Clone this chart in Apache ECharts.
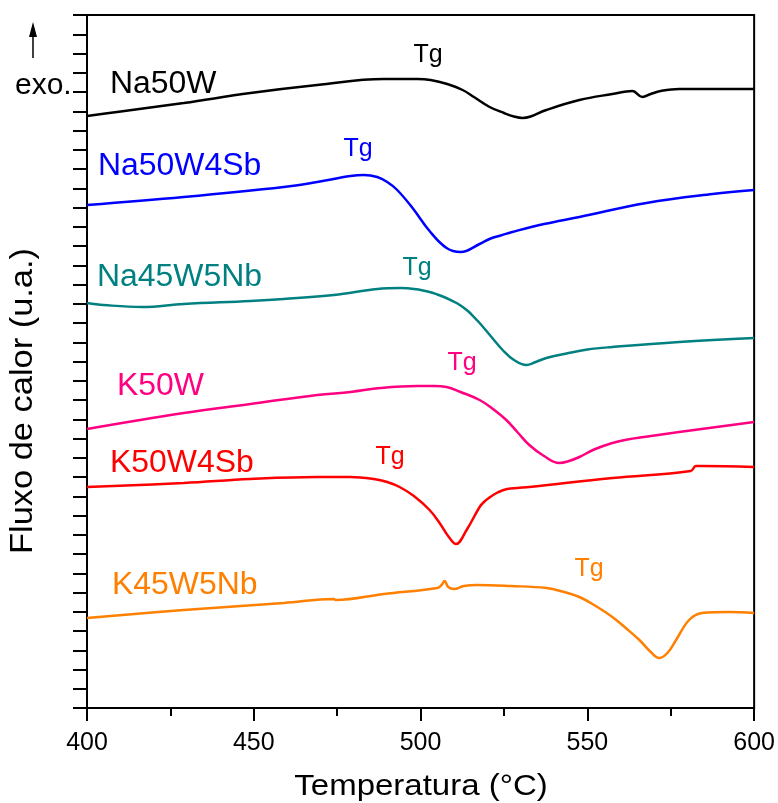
<!DOCTYPE html>
<html>
<head>
<meta charset="utf-8">
<script src="https://cdn.jsdelivr.net/npm/echarts@6/dist/echarts.min.js"></script>
<style>
  html, body { margin: 0; padding: 0; background: #fff; }
  #chart { width: 778px; height: 803px; }
</style>
</head>
<body>
<div id="chart"></div>
<script>
// DSC traces, heat flow in arbitrary units (offset stacked)
const xTicks = [400, 450, 500, 550, 600];

const na50wT = [400, 409, 429, 449, 469, 489, 499, 503, 508, 512.6, 516, 520.7, 525, 528, 530.5, 533, 537.7, 547.6, 557.5, 563.5, 566.5, 569, 572, 577.5, 587.5, 600];
const na50wV = [592, 596, 605, 615, 623, 629, 629, 628, 624, 618, 611, 601, 595, 591.5, 590, 591.5, 598, 608, 614, 617, 611, 614, 617, 619, 619, 619];

const na50w4sbT = [400, 429, 459, 469, 479, 483, 487, 490, 493, 497.6, 502.7, 507.8, 512, 517.7, 521, 524, 527.5, 537, 547.6, 567.7, 587.5, 600];
const na50w4sbV = [503, 511, 521, 526, 532, 533, 531, 526, 518, 500, 477, 460, 456, 464, 469.5, 472.5, 476, 484, 491, 505, 514, 518];

const na45w5nbT = [400, 405, 416.5, 429, 449, 459, 474, 487, 494, 500, 502.7, 505, 507, 509, 510.8, 512, 514, 515, 517.7, 521, 524.6, 528, 531.7, 534.5, 537.7, 543.7, 550, 557.5, 577.5, 600];
const na45w5nbV = [405, 403, 401, 404, 407, 409, 413, 419, 420, 418, 416, 413.5, 411, 408, 405, 402.5, 397.5, 394.5, 385, 372, 358, 348, 343, 346, 350, 354.5, 358.5, 361, 366, 370];

const k50wT = [400, 429, 449, 469, 479, 488, 499, 504, 507.8, 512, 517.7, 521.7, 525.7, 529, 532.6, 537, 541.6, 544.5, 547.6, 552, 557.5, 562, 567, 577.5, 600];
const k50wV = [279, 295, 304, 313, 316, 320, 322, 322, 321, 316, 308, 299, 288, 276, 263, 252, 245, 247, 251, 258.5, 265, 268.5, 271, 276, 286];

const k50w4sbT = [400, 429, 449, 469, 479, 486, 490, 493.7, 498, 502.7, 505.7, 508.7, 510.6, 513.8, 517.7, 519, 520.9, 522.8, 524.5, 526, 529, 532.6, 557.5, 581, 582.5, 584, 600];
const k50w4sbV = [221, 225, 229, 231, 231, 229, 226, 221, 212, 198, 185, 170, 164, 178, 201, 206, 211, 215, 217.5, 219, 220, 221, 230, 237, 242, 242, 241];

const k45w5nbT = [400, 429, 459, 474, 474.5, 489, 505, 506.3, 507.2, 508.3, 510, 513, 516.8, 527, 537.7, 543, 547.6, 552, 557.5, 561.5, 565.6, 569, 571.6, 574, 576.6, 580.5, 584.4, 592.5, 600];
const k45w5nbV = [90, 98, 105, 109, 108, 114, 120, 123, 127, 121, 119, 122, 123, 122, 120, 116, 111, 103, 91, 80, 68, 56, 50, 55, 68, 88, 95, 96, 95];

const names = ['Na50W', 'Na50W4Sb', 'Na45W5Nb', 'K50W', 'K50W4Sb', 'K45W5Nb'];
const colors = ['#000000', '#0000ff', '#008080', '#ff0080', '#ff0000', '#ff8000'];
const temps = [na50wT, na50w4sbT, na45w5nbT, k50wT, k50w4sbT, k45w5nbT];
const vals = [na50wV, na50w4sbV, na45w5nbV, k50wV, k50w4sbV, k45w5nbV];

// label anchors (pixel) for sample names and Tg marks
const nameLabelPos = [[110, 84], [98, 166], [97, 277], [117, 386], [110, 463], [112, 585]];
const tgLabelPos = [[428, 55], [358, 149], [417, 268], [462, 363], [390, 457], [589, 569]];

const FONT = 'Liberation Sans, Arial, sans-serif';
const chart = echarts.init(document.getElementById('chart'));

const texts = [];
names.forEach((n, i) => {
  texts.push({
    type: 'text', z: 10, x: nameLabelPos[i][0], y: nameLabelPos[i][1], scaleX: 1.03,
    style: { text: n, x: 0, y: 0, fill: colors[i],
      font: '31px ' + FONT, align: 'left', verticalAlign: 'middle' }
  });
  texts.push({
    type: 'text', z: 10,
    style: { text: 'Tg', x: tgLabelPos[i][0], y: tgLabelPos[i][1], fill: colors[i],
      font: '25px ' + FONT, align: 'center', verticalAlign: 'middle' }
  });
});

chart.setOption({
  animation: false,
  grid: { left: 87, right: 23, top: 15, bottom: 95, show: true, borderColor: '#000', borderWidth: 2 },
  xAxis: {
    type: 'value', min: 400, max: 600, interval: 50,
    axisLine: { lineStyle: { color: '#000', width: 2 } },
    axisTick: { inside: false, length: 13, lineStyle: { color: '#000', width: 2 } },
    minorTick: { show: true, splitNumber: 2, length: 8, lineStyle: { color: '#000', width: 2 } },
    axisLabel: { fontFamily: FONT, fontSize: 25, color: '#000', margin: 23,
      formatter: (v) => (xTicks.includes(v) ? String(v) : '') },
    splitLine: { show: false }
  },
  yAxis: {
    type: 'value', min: 0, max: 693, interval: 19.25,
    axisLine: { show: true, lineStyle: { color: '#000', width: 2 } },
    axisTick: { show: true, inside: false, length: 14, lineStyle: { color: '#000', width: 2 } },
    axisLabel: { show: false },
    splitLine: { show: false }
  },
  series: names.map((n, i) => ({
    name: n, type: 'line', showSymbol: false, smooth: 0.4,
    data: temps[i].map((t, j) => [t, vals[i][j]]),
    lineStyle: { color: colors[i], width: 2.5 },
    itemStyle: { color: colors[i] }
  })),
  graphic: texts.concat([
    { type: 'text', z: 10, x: 421, y: 787, scaleX: 1.1,
      style: { text: 'Temperatura (°C)', x: 0, y: 0, fill: '#000', font: '30px ' + FONT,
        align: 'center', verticalAlign: 'middle' } },
    { type: 'text', z: 10, x: 23, y: 401, rotation: Math.PI / 2, scaleX: 1.11,
      style: { text: 'Fluxo de calor (u.a.)', x: 0, y: 0, fill: '#000', font: '31px ' + FONT,
        align: 'center', verticalAlign: 'middle' } },
    { type: 'text', z: 10,
      style: { text: 'exo.', x: 15, y: 86, fill: '#000', font: '30px ' + FONT,
        align: 'left', verticalAlign: 'middle' } },
    { type: 'line', z: 10, shape: { x1: 33, y1: 34, x2: 33, y2: 58 },
      style: { stroke: '#000', lineWidth: 1.5 } },
    { type: 'polygon', z: 10, shape: { points: [[33, 22], [29, 37], [37, 37]] },
      style: { fill: '#000' } }
  ])
});
</script>
</body>
</html>
